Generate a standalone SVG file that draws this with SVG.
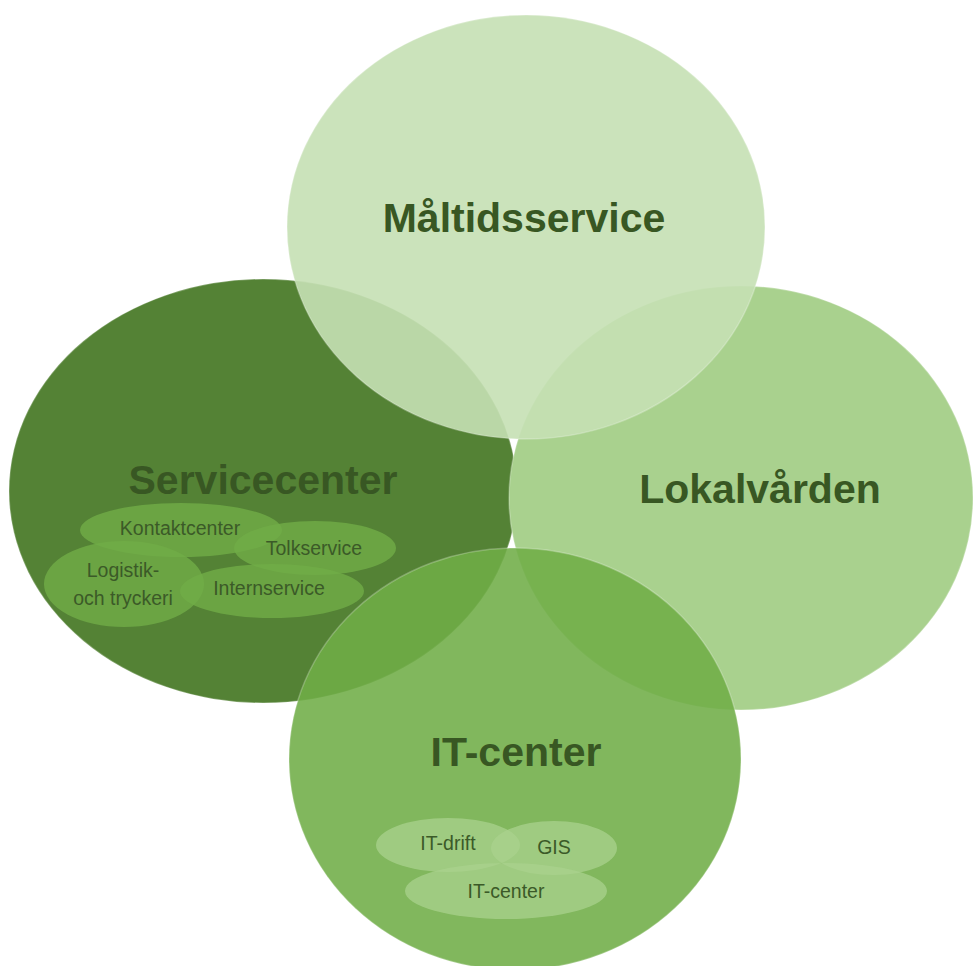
<svg xmlns="http://www.w3.org/2000/svg" width="973" height="966" viewBox="0 0 973 966">
<style>
.big{font-family:"Liberation Sans",Arial,sans-serif;font-weight:bold;font-size:41px;fill:#385723;text-anchor:middle}
.sm{font-family:"Liberation Sans",Arial,sans-serif;font-size:19.5px;fill:#3b5a28;text-anchor:middle}
.edge{stroke:#ffffff;stroke-opacity:0.25;stroke-width:1.5}
.sub1{fill:#70ad47;fill-opacity:0.8}
.sub2{fill:#a9d18e;fill-opacity:0.75}
</style>
<rect width="973" height="966" fill="#ffffff"/>
<g id="servicecenter">
<ellipse cx="263" cy="491" rx="254" ry="212" fill="#548235" class="edge"/>
</g>
<g id="lokalvarden">
<ellipse cx="741" cy="498" rx="232" ry="212" fill="#a9d18e" class="edge"/>
</g>
<g id="maltidsservice">
<ellipse cx="526" cy="227" rx="239" ry="212" fill="#c5e0b4" fill-opacity="0.9" class="edge"/>
<text class="big" x="524" y="232">Måltidsservice</text>
</g>
<g id="itcenter">
<ellipse cx="515" cy="759" rx="226" ry="211" fill="#70ad47" fill-opacity="0.88" class="edge"/>
<text class="big" x="516" y="766">IT-center</text>
</g>
<g id="servicecenter-label">
<text class="big" x="263" y="494">Servicecenter</text>
</g>
<g id="lokalvarden-label">
<text class="big" x="760" y="503">Lokalvården</text>
</g>
<g id="kontaktcenter">
<ellipse class="sub1" cx="181" cy="530" rx="101" ry="27"/>
<text class="sm" x="180" y="535">Kontaktcenter</text>
</g>
<g id="tolkservice">
<ellipse class="sub1" cx="315" cy="548" rx="81" ry="27"/>
<text class="sm" x="314" y="555">Tolkservice</text>
</g>
<g id="logistik">
<ellipse class="sub1" cx="124" cy="584" rx="80" ry="43"/>
<text class="sm" x="123" y="577">Logistik-</text>
<text class="sm" x="123" y="605">och tryckeri</text>
</g>
<g id="internservice">
<ellipse class="sub1" cx="272" cy="591" rx="92" ry="27"/>
<text class="sm" x="269" y="595">Internservice</text>
</g>
<g id="it-drift">
<ellipse class="sub2" cx="448" cy="845" rx="72" ry="27"/>
<text class="sm" x="448" y="850">IT-drift</text>
</g>
<g id="gis">
<ellipse class="sub2" cx="554" cy="848" rx="63" ry="27"/>
<text class="sm" x="554" y="854">GIS</text>
</g>
<g id="it-center-sub">
<ellipse class="sub2" cx="506" cy="891" rx="101" ry="28"/>
<text class="sm" x="506" y="898">IT-center</text>
</g>
<g id="connectors"></g>
</svg>
